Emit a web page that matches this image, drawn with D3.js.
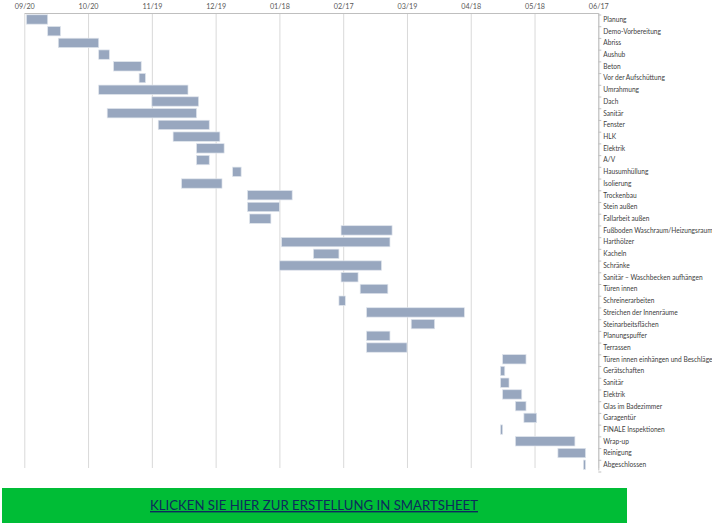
<!DOCTYPE html>
<html>
<head>
<meta charset="utf-8">
<script src="https://cdn.jsdelivr.net/npm/d3@7"></script>
<style>
  body { margin: 0; background: #fff; }
  svg { display: block; font-family: Lato, "Open Sans", sans-serif; }
</style>
</head>
<body>
<div id="chart"></div>
<script>
let width = 712, height = 527

// DATA
let tasks = ['Planung', 'Demo-Vorbereitung', 'Abriss', 'Aushub', 'Beton', 'Vor der Aufschüttung',
  'Umrahmung', 'Dach', 'Sanitär', 'Fenster', 'HLK', 'Elektrik', 'A/V', 'Hausumhüllung',
  'Isolierung', 'Trockenbau', 'Stein außen', 'Fallarbeit außen', 'Fußboden Waschraum/Heizungsraum',
  'Harthölzer', 'Kacheln', 'Schränke', 'Sanitär – Waschbecken aufhängen', 'Türen innen',
  'Schreinerarbeiten', 'Streichen der Innenräume', 'Steinarbeitsflächen', 'Planungspuffer',
  'Terrassen', 'Türen innen einhängen und Beschläge', 'Gerätschaften', 'Sanitär ', 'Elektrik ',
  'Glas im Badezimmer', 'Garagentür', 'FINALE Inspektionen', 'Wrap-up', 'Reinigung', 'Abgeschlossen']

let startDates = ['2016-09-21', '2016-10-01', '2016-10-06', '2016-10-25', '2016-11-01', '2016-11-13',
  '2016-10-25', '2016-11-19', '2016-10-29', '2016-11-22', '2016-11-29', '2016-12-10', '2016-12-10',
  '2016-12-27', '2016-12-03', '2017-01-03', '2017-01-03', '2017-01-04', '2017-02-16',
  '2017-01-19', '2017-02-03', '2017-01-18', '2017-02-16', '2017-02-25',
  '2017-02-15', '2017-02-28', '2017-03-21', '2017-02-28',
  '2017-02-28', '2017-05-03', '2017-05-02', '2017-05-02', '2017-05-03',
  '2017-05-09', '2017-05-13', '2017-05-02', '2017-05-09', '2017-05-29', '2017-06-10']

let durations = [10, 6, 19, 5, 13, 3,
  42, 22, 42, 24, 22, 13, 6, 4,
  19, 21, 15, 10, 24,
  51, 12, 48, 8, 13,
  3, 46, 11, 11,
  19, 11, 2, 4, 9,
  5, 6, 1, 28, 13, 1]

let tickLabels = ['09/20', '10/20', '11/19', '12/19', '01/18', '02/17', '03/19', '04/18', '05/18', '06/17']
let tickYears = [2016, 2016, 2016, 2016, 2017, 2017, 2017, 2017, 2017, 2017]

let bannerText = 'KLICKEN SIE HIER ZUR ERSTELLUNG IN SMARTSHEET'

// SCALES
let parse = d3.utcParse('%Y-%m-%d')
let tickDates = tickLabels.map((t, i) => parse(tickYears[i] + '-' + t.replace('/', '-')))

let margin = { top: 13, left: 24.3, right: 598.3, bottom: 470 }

let x = d3.scaleUtc()
  .domain([tickDates[0], tickDates[tickDates.length - 1]])
  .range([margin.left, margin.right])

let y = d3.scaleBand()
  .domain(tasks)
  .range([margin.top, margin.bottom])
  .paddingInner(0.2)
  .paddingOuter(0.1)

let svg = d3.select('#chart')
  .append('svg')
  .attr('width', width)
  .attr('height', height)

// GRID LINES
svg.append('g')
  .attr('class', 'grid')
  .attr('transform', 'translate(0,' + margin.top + ')')
  .call(d3.axisBottom(x)
    .tickValues(tickDates)
    .tickSize(margin.bottom - margin.top - 2)
    .tickFormat(''))
  .call(g => g.select('.domain').remove())
  .call(g => g.selectAll('.tick line').attr('stroke', '#d9d9d9'))

// TOP AXIS
let xAxis = svg.append('g')
  .attr('transform', 'translate(0,' + margin.top + ')')
  .call(d3.axisTop(x)
    .tickValues(tickDates)
    .tickSize(0)
    .tickPadding(4)
    .tickFormat((d, i) => tickLabels[i]))

xAxis.select('.domain').attr('stroke', '#bfbfbf')
xAxis.selectAll('text')
  .attr('fill', '#595959')
  .style('font-size', '7.2px')
  .style('font-family', 'Lato, sans-serif')

// BARS
let data = tasks.map((t, i) => {
  let s = parse(startDates[i])
  return { task: t, start: s, end: d3.utcDay.offset(s, durations[i]) }
})

svg.append('g')
  .selectAll('rect')
  .data(data)
  .enter().append('rect')
    .attr('x', d => x(d.start))
    .attr('y', d => y(d.task) + 0.6)
    .attr('width', d => Math.max(x(d.end) - x(d.start), 1.5))
    .attr('height', y.bandwidth())
    .attr('fill', '#98a7bf')
    .attr('stroke', '#dfe4ec')
    .attr('stroke-width', 0.7)

// RIGHT AXIS
let yAxis = svg.append('g')
  .attr('transform', 'translate(' + margin.right + ',0)')
  .call(d3.axisRight(y).tickSize(0).tickPadding(5))

yAxis.select('.domain').attr('stroke', '#bfbfbf')
yAxis.selectAll('.tick text')
  .attr('fill', '#404040')
  .attr('dy', '0.45em')
  .style('font-size', '6.6px')
  .style('font-family', 'Lato, sans-serif')

// tick marks sit between categories
let step = y.step()
let bounds = tasks.map(t => y(t) - step * y.paddingInner() / 2).concat([margin.bottom])
yAxis.selectAll('.bound')
  .data(bounds)
  .enter().append('line')
    .attr('class', 'bound')
    .attr('x1', 0)
    .attr('x2', 3)
    .attr('y1', d => d + 2)
    .attr('y2', d => d + 2)
    .attr('stroke', '#bfbfbf')

// BANNER
svg.append('rect')
  .attr('x', 2)
  .attr('y', 488)
  .attr('width', 625)
  .attr('height', 35)
  .attr('fill', '#00bd36')

svg.append('text')
  .attr('x', 314)
  .attr('y', 510)
  .attr('text-anchor', 'middle')
  .attr('textLength', 328)
  .attr('lengthAdjust', 'spacingAndGlyphs')
  .attr('fill', '#0d2b5c')
  .style('font-size', '14px')
  .style('font-family', 'Lato, sans-serif')
  .style('text-decoration', 'underline')
  .text(bannerText)
</script>
</body>
</html>
